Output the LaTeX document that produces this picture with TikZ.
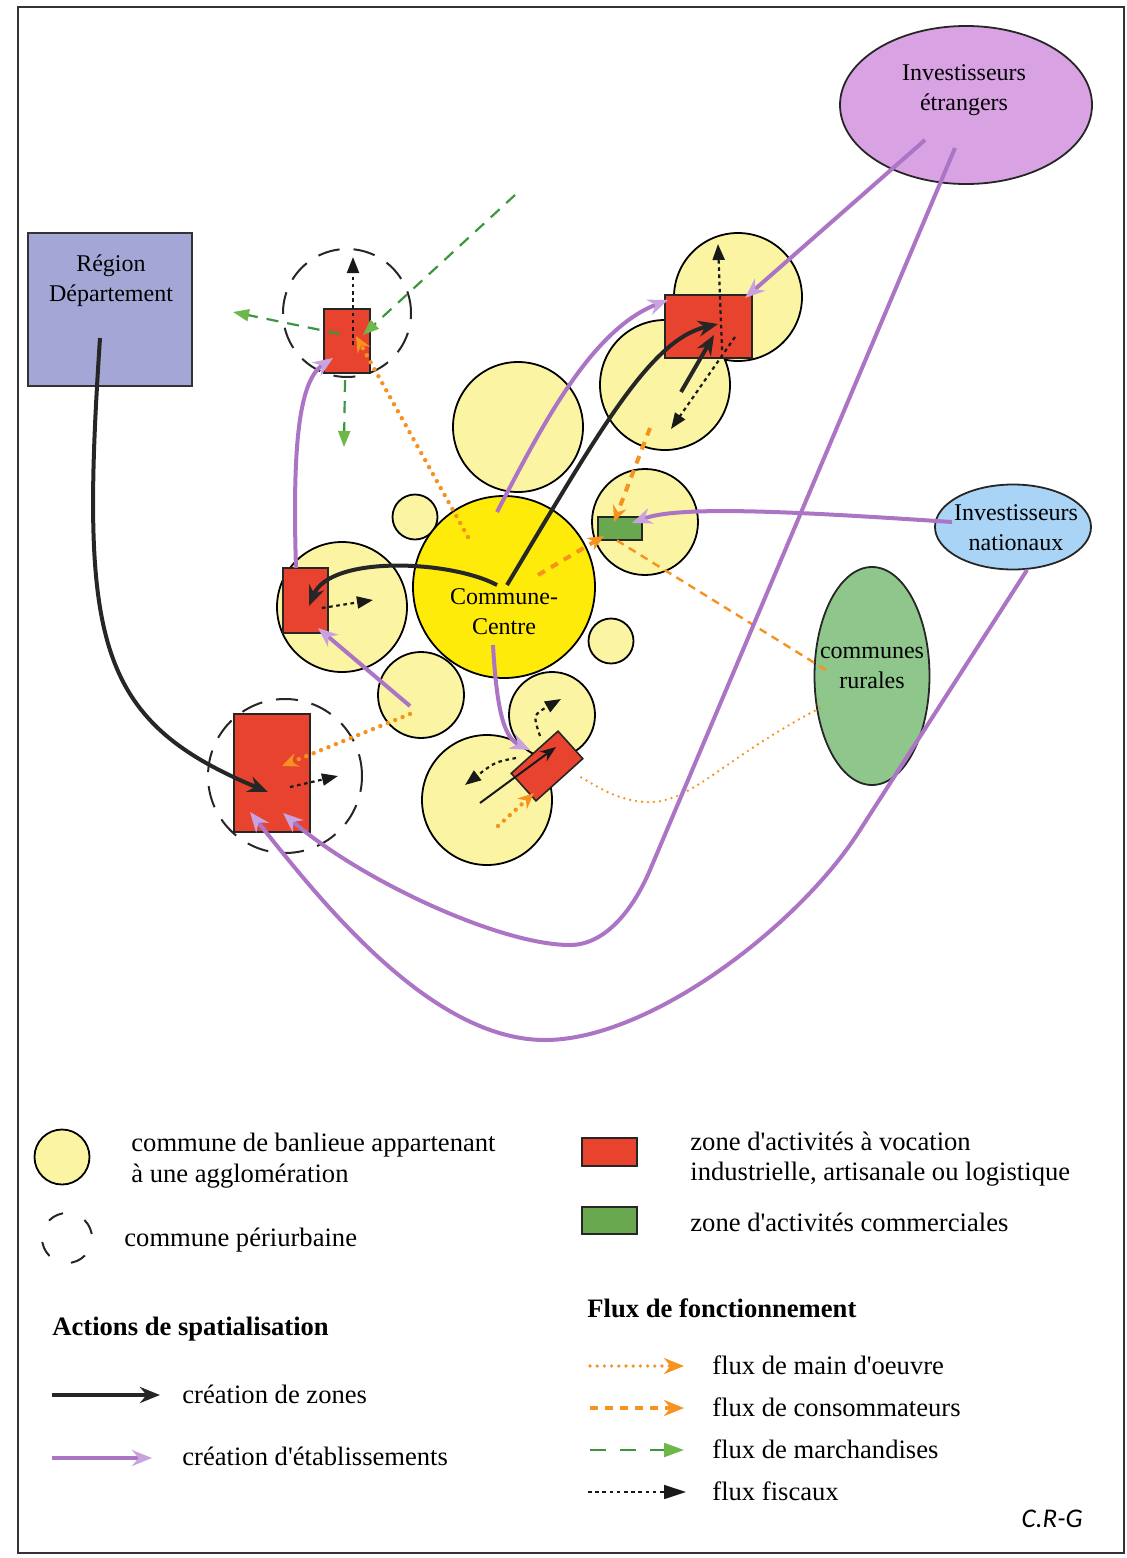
\documentclass[tikz,border=0pt]{standalone}
\usepackage{fontspec}
\setmainfont{Liberation Serif}[Ligatures=TeXOff]
\newfontfamily\crgfont{Carlito}
\usetikzlibrary{arrows.meta,shapes.geometric,calc}
\definecolor{paleyel}{HTML}{FBF5A3}
\definecolor{ccyel}{HTML}{FFEB0A}
\definecolor{zred}{HTML}{E8432E}
\definecolor{zgreen}{HTML}{6AA84F}
\definecolor{regfill}{HTML}{A4A7D6}
\definecolor{ietr}{HTML}{D9A3E3}
\definecolor{inat}{HTML}{A9D4F5}
\definecolor{crur}{HTML}{8FC68C}
\definecolor{purp}{HTML}{AC74C4}
\definecolor{purpl}{HTML}{C9A2E2}
\definecolor{orng}{HTML}{F6921E}
\definecolor{gdark}{HTML}{3B963E}
\definecolor{glight}{HTML}{6DB84A}
\tikzset{
  sub/.style={circle,draw=black,line width=0.9pt,fill=paleyel,inner sep=0pt},
  zone/.style={rectangle,draw=black!85,line width=0.8pt,fill=zred,inner sep=0pt},
  comzone/.style={rectangle,draw=black!85,line width=0.8pt,fill=zgreen,inner sep=0pt},
  peri/.style={circle,draw=black!85,line width=1pt,dash pattern=on 11pt off 7pt,inner sep=0pt},
  lbl/.style={align=center,inner sep=0pt,font=\fontsize{12}{15}\selectfont},
  zonearrow/.style={draw=black!85,line width=2pt,-{Stealth[length=10pt,width=8pt]}},
  etabarrow/.style={draw=purp,line width=2pt,-{Stealth[length=10pt,width=8pt,fill=purpl,color=purpl]}},
  mainflow/.style={draw=orng,line width=2.2pt,dash pattern=on 0pt off 4pt,line cap=round,-{Stealth[length=8pt,width=7pt,line cap=butt]}},
  mainthin/.style={draw=orng,line width=1.3pt,dash pattern=on 0pt off 3pt,line cap=round},
  consflow/.style={draw=orng,line width=2pt,dash pattern=on 4pt off 3.5pt,-{Stealth[length=8pt,width=7pt]}},
  consthin/.style={draw=orng,line width=1.2pt,dash pattern=on 4pt off 3pt},
  goods/.style={draw=gdark,line width=1.1pt,dash pattern=on 6pt off 4.5pt,-{Triangle[length=8pt,width=6pt,fill=glight,color=glight]}},
  fisc/.style={draw=black!90,line width=1.1pt,dash pattern=on 1.8pt off 1.8pt,-{Triangle[length=8pt,width=6pt]}},
  leg/.style={anchor=base west,inner sep=0pt,font=\fontsize{13.3}{16}\selectfont},
  legh/.style={anchor=base west,inner sep=0pt,font=\fontsize{13.3}{16}\selectfont\bfseries}
}
\begin{document}
\begin{tikzpicture}[x=0.5pt,y=-0.5pt]
\useasboundingbox (0,0) rectangle (1126,1558);
\draw[line width=1pt,black!80] (18,7) rectangle (1124,1553);

% suburban communes
\node[sub,minimum size=64pt] (c1) at (738,297) {};
\node[sub,minimum size=65pt] (c2) at (665,385) {};
\node[sub,minimum size=65pt] (c3) at (518,427) {};
\node[sub,minimum size=22.5pt] (c4) at (415,517) {};
\node[sub,minimum size=53pt] (c5) at (645,522) {};
\node[sub,minimum size=65pt] (c6) at (342,607) {};
\node[sub,minimum size=43pt] (c7) at (421,695) {};
\node[sub,minimum size=22.5pt] (c8) at (611,641) {};
\node[sub,minimum size=65pt] (c9) at (487,800) {};
\node[sub,minimum size=43pt] (c10) at (552,715) {};
\node[circle,draw=black,line width=0.9pt,fill=ccyel,minimum size=91pt,inner sep=0pt] (cc) at (504,587) {};
\node[lbl] (ccl) at (504,612) {Commune-\\Centre};

% actors
\node[rectangle,draw=black!80,line width=0.9pt,fill=regfill,minimum width=82pt,minimum height=76.5pt] (reg) at (110,309.5) {};
\node[lbl] (regl) at (111,281) {Région\\Département};
\node[ellipse,draw=black!85,line width=0.9pt,fill=ietr,minimum width=126pt,minimum height=79pt] (ie) at (966,105) {};
\node[lbl] (iel) at (964,90) {Investisseurs\\étrangers};
\node[ellipse,draw=black!85,line width=0.9pt,fill=inat,minimum width=78pt,minimum height=42.5pt,inner sep=0pt] (in) at (1013,527) {};
\node[lbl] (inl) at (1016,528) {Investisseurs\\nationaux};
\node[ellipse,draw=black!85,line width=0.9pt,fill=crur,minimum width=57.5pt,minimum height=109pt] (cr) at (872,676) {};
\node[lbl] (crl) at (872,668) {communes\\rurales};

% zones
\node[zone,minimum width=23pt,minimum height=32pt] (z1) at (347,341) {};
\node[zone,minimum width=43.5pt,minimum height=31.5pt] (z2) at (708.5,326.5) {};
\node[zone,minimum width=22.5pt,minimum height=32.5pt] (z3) at (305.5,600.5) {};
\node[zone,minimum width=38pt,minimum height=59pt] (z4) at (272,773) {};
\node[zone,minimum width=31.5pt,minimum height=18.5pt,rotate=42] (z5) at (547,766) {};
\node[comzone,minimum width=22pt,minimum height=11.5pt] (zc) at (620,528.5) {};

% periurban communes
\node[peri,minimum size=64pt] (p1) at (347,313) {};
\node[peri,minimum size=77pt] (p2) at (285,776) {};

% endpoints
\coordinate (a1s) at (100,338); \coordinate (a1e) at (268,792);
\coordinate (a2s) at (497,585); \coordinate (a2e) at (309,606);
\coordinate (a3s) at (507,585); \coordinate (a3e) at (718,324);
\coordinate (a4s) at (681,392); \coordinate (a4e) at (714,335);
\coordinate (a5s) at (480,803); \coordinate (a5e) at (556,747);

\coordinate (p1s) at (925,140); \coordinate (p1e) at (745,298);
\coordinate (p2s) at (955,148); \coordinate (p2a) at (650,870); \coordinate (p2b) at (570,945); \coordinate (p2e) at (283,813);
\coordinate (p3s) at (1027,570); \coordinate (p3a) at (860,830); \coordinate (p3b) at (545,1040); \coordinate (p3e) at (250,812);
\coordinate (p4s) at (497,512); \coordinate (p4e) at (668,300);
\coordinate (p5s) at (493,645); \coordinate (p5e) at (530,750);
\coordinate (p6s) at (410,706); \coordinate (p6e) at (318,628);
\coordinate (p7s) at (296,568); \coordinate (p7e) at (333,358);
\coordinate (p8s) at (952,522); \coordinate (p8e) at (632,523);

\coordinate (o1s) at (468,537); \coordinate (o1e) at (356,336);
\coordinate (o2s) at (410,714); \coordinate (o2e) at (282,766);
\coordinate (o3s) at (498,826); \coordinate (o3e) at (534,793);
\coordinate (o4s) at (820,708); \coordinate (o4a) at (645,802); \coordinate (o4e) at (577,775);
\coordinate (k1s) at (538,575); \coordinate (k1e) at (604,536);
\coordinate (k2s) at (650,428); \coordinate (k2e) at (614,522);
\coordinate (k3s) at (826,670); \coordinate (k3e) at (613,538);

\coordinate (g1s) at (515,195); \coordinate (g1e) at (363,335);
\coordinate (g2s) at (340,334); \coordinate (g2e) at (233,312);
\coordinate (g3s) at (345,380); \coordinate (g3e) at (344,447);

\coordinate (f1s) at (353,345); \coordinate (f1e) at (353,257);
\coordinate (f2s) at (722,350); \coordinate (f2e) at (718,244);
\coordinate (f3s) at (735,337); \coordinate (f3e) at (671,429);
\coordinate (f4s) at (322,608); \coordinate (f4e) at (373,600);
\coordinate (f5s) at (290,787); \coordinate (f5e) at (338,776);
\coordinate (f6s) at (516,758); \coordinate (f6e) at (465,785);
\coordinate (f7s) at (540,736); \coordinate (f7e) at (561,699);

% flows of labour and consumers
\draw[mainflow] (o1s) -- (o1e);
\draw[mainflow] (o2s) -- (o2e);
\draw[mainflow] (o3s) -- (o3e);
\draw[mainthin] (o4s) .. controls (720,760) and (690,805) .. (o4a) .. controls (615,800) and (595,785) .. (o4e);
\draw[consflow] (k1s) -- (k1e);
\draw[consflow] (k2s) -- (k2e);
\draw[consthin] (k3s) -- (k3e);

% goods
\draw[goods] (g1s) -- (g1e);
\draw[goods] (g2s) -- (g2e);
\draw[goods] (g3s) -- (g3e);

% creation of establishments
\draw[etabarrow] (p1s) -- (p1e);
\draw[etabarrow] (p2s) -- (p2a) .. controls (633,910) and (605,945) .. (p2b) .. controls (500,945) and (360,880) .. (p2e);
\draw[etabarrow] (p3s) -- (p3a) .. controls (800,925) and (650,1040) .. (p3b) .. controls (430,1040) and (320,900) .. (p3e);
\draw[etabarrow] (p4s) .. controls (540,430) and (590,330) .. (p4e);
\draw[etabarrow] (p5s) .. controls (497,715) and (505,738) .. (p5e);
\draw[etabarrow] (p6s) -- (p6e);
\draw[etabarrow] (p7s) .. controls (292,440) and (300,380) .. (p7e);
\draw[etabarrow] (p8s) .. controls (800,512) and (680,505) .. (p8e);

% creation of zones
\draw[zonearrow] (a1s) .. controls (80,640) and (95,720) .. (a1e);
\draw[zonearrow] (a2s) .. controls (450,560) and (330,555) .. (a2e);
\draw[zonearrow] (a3s) .. controls (600,430) and (650,340) .. (a3e);
\draw[zonearrow] (a4s) -- (a4e);
\draw[draw=black!90,line width=1pt,-{Stealth[length=8pt,width=6pt]}] (a5s) -- (a5e);

% fiscal flows
\draw[fisc] (f1s) -- (f1e);
\draw[fisc] (f2s) -- (f2e);
\draw[fisc] (f3s) -- (f3e);
\draw[fisc] (f4s) -- (f4e);
\draw[fisc] (f5s) -- (f5e);
\draw[fisc] (f6s) .. controls (495,762) .. (f6e);
\draw[fisc] (f7s) .. controls (533,715) .. (f7e);

% ---------- legend ----------
\node[sub,minimum size=27.5pt] (lc) at (62,1157) {};
\node[leg] (lct1) at (131,1151) {commune de banlieue appartenant};
\node[leg] (lct2) at (131,1182) {à une agglomération};
\node[circle,draw=black!85,line width=1pt,dash pattern=on 8pt off 11.6pt,dash phase=-2pt,minimum size=25pt,inner sep=0pt] (lp) at (67,1238) {};
\node[leg] (lpt) at (124,1246) {commune périurbaine};
\node[legh] (lah) at (52,1335) {Actions de spatialisation};
\coordinate (lz1) at (52,1395); \coordinate (lz2) at (160,1395);
\draw[zonearrow] (lz1) -- (lz2);
\node[leg] (lzt) at (182,1403) {création de zones};
\coordinate (le1) at (52,1458); \coordinate (le2) at (152,1458);
\draw[etabarrow] (le1) -- (le2);
\node[leg] (let) at (182,1465) {création d'établissements};

\node[zone,minimum width=27.5pt,minimum height=14pt] (lr) at (609.5,1152) {};
\node[leg] (lrt1) at (690,1150) {zone d'activités à vocation};
\node[leg] (lrt2) at (690,1180) {industrielle, artisanale ou logistique};
\node[comzone,minimum width=27.5pt,minimum height=13.5pt] (lg) at (609.5,1220.5) {};
\node[leg] (lgt) at (690,1231) {zone d'activités commerciales};
\node[legh] (lfh) at (587,1317) {Flux de fonctionnement};
\coordinate (lm1) at (590,1366); \coordinate (lm2) at (684,1366);
\draw[mainflow,line width=1.8pt,dash pattern=on 0pt off 3.6pt,-{Stealth[length=10pt,width=8pt,line cap=butt]}] (lm1) -- (lm2);
\node[leg] (lmt) at (712,1374) {flux de main d'oeuvre};
\coordinate (lk1) at (590,1408); \coordinate (lk2) at (684,1408);
\draw[consflow,line width=1.8pt,-{Stealth[length=10pt,width=8pt]}] (lk1) -- (lk2);
\node[leg] (lkt) at (712,1416) {flux de consommateurs};
\coordinate (lgd1) at (590,1450); \coordinate (lgd2) at (684,1450);
\draw[goods,dash pattern=on 8pt off 7pt,-{Triangle[length=10pt,width=7pt,fill=glight,color=glight]}] (lgd1) -- (lgd2);
\node[leg] (lgdt) at (712,1458) {flux de marchandises};
\coordinate (lf1) at (588,1492); \coordinate (lf2) at (686,1492);
\draw[fisc,line width=0.8pt,-{Triangle[length=11pt,width=7pt]}] (lf1) -- (lf2);
\node[leg] (lft) at (712,1500) {flux fiscaux};
\node[anchor=base east,inner sep=0pt,font=\crgfont\itshape\fontsize{13.5}{15}\selectfont] (crg) at (1083,1527) {C.R-G};
\end{tikzpicture}
\end{document}
